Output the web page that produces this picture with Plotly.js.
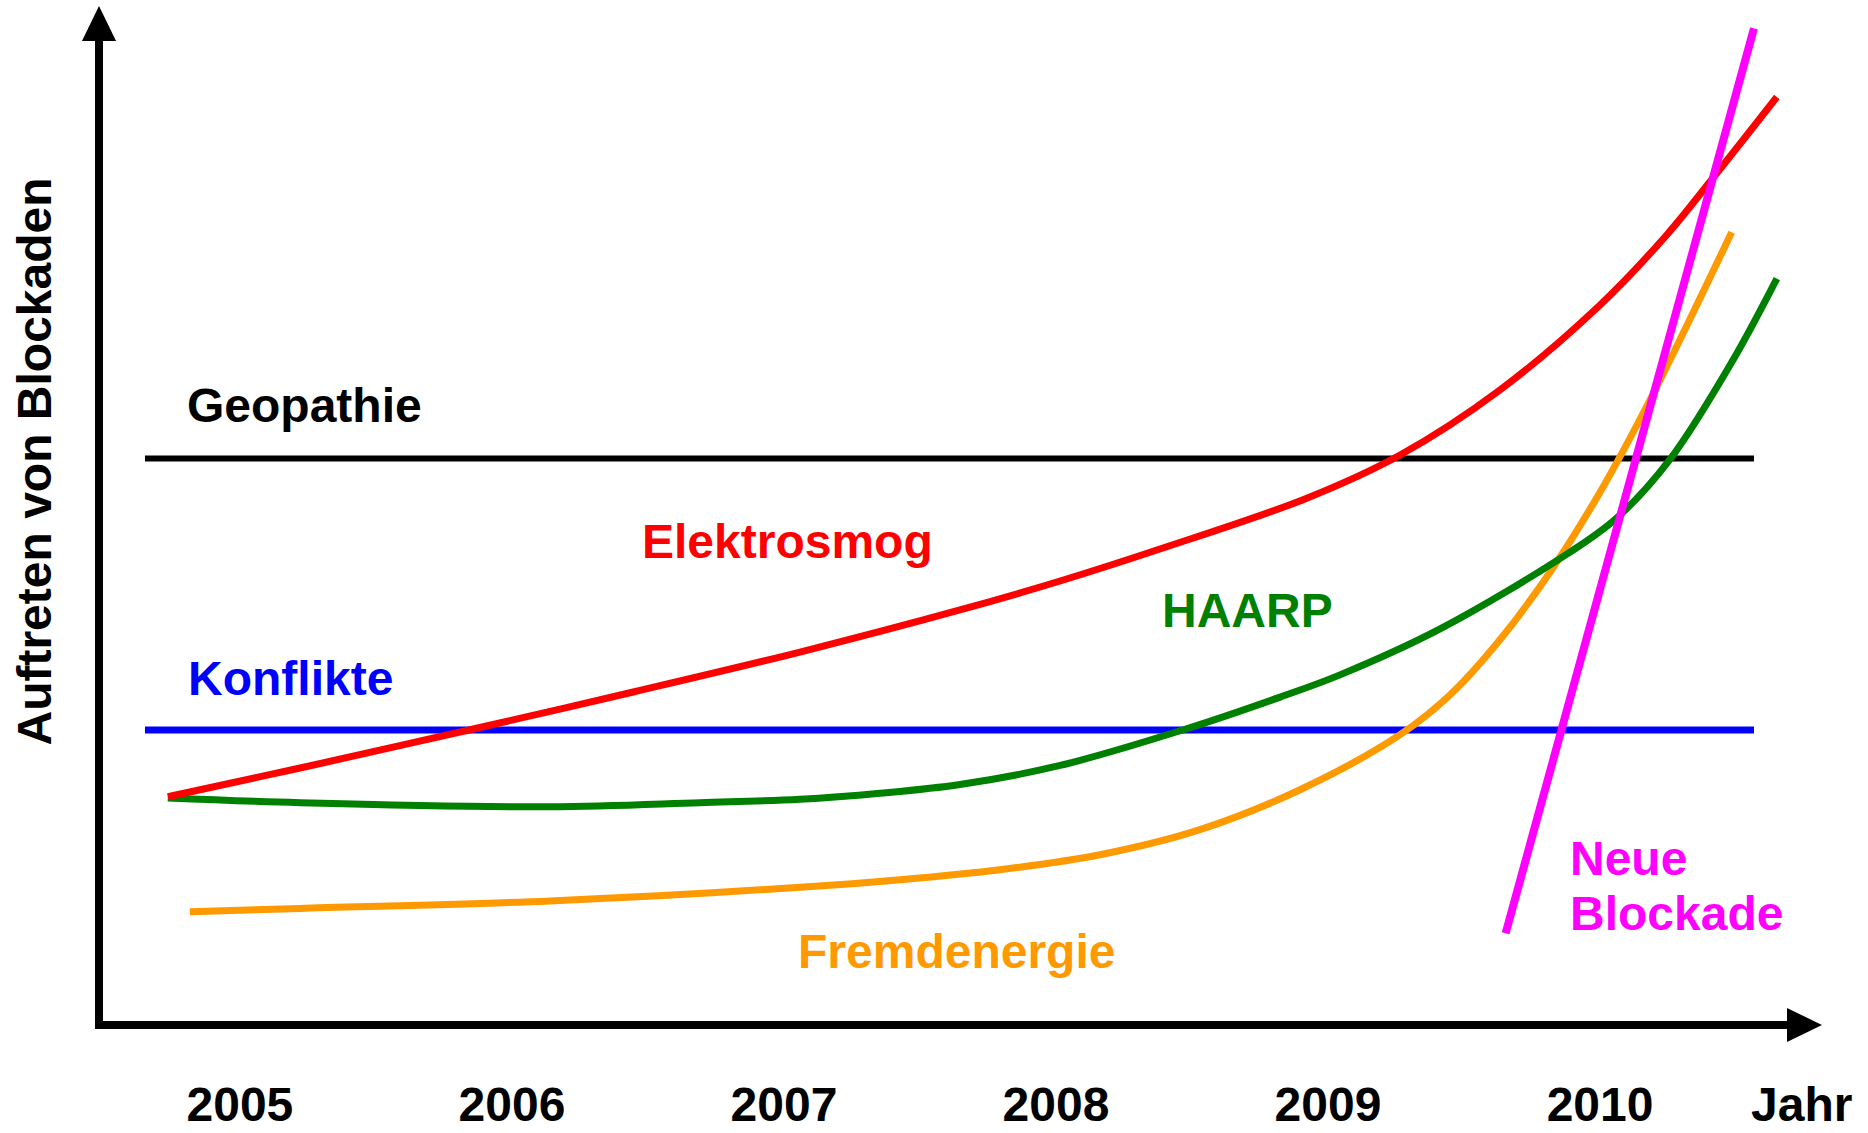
<!DOCTYPE html>
<html>
<head>
<meta charset="utf-8">
<script src="https://cdn.plot.ly/plotly-3.0.1.min.js"></script>
<style>
html, body { margin: 0; padding: 0; background: #ffffff; }
#chart { width: 1868px; height: 1133px; }
</style>
</head>
<body>
<div id="chart"></div>
<script>
// ---- data (x in years, y = relative occurrence of blockades) ----
const tickYears = [2005, 2006, 2007, 2008, 2009, 2010];
const tickLabels = ["2005", "2006", "2007", "2008", "2009", "2010"];

const geopathieX = [2004.651, 2010.566];
const geopathieY = [55.6, 55.6];

const konflikteX = [2004.651, 2010.566];
const konflikteY = [28.95, 28.95];

const elektrosmogX = [2004.735, 2005.221, 2005.858, 2006.446, 2007.059, 2007.647, 2008.015, 2008.382, 2008.922, 2009.265, 2009.632, 2010.000, 2010.245, 2010.415, 2010.650];
const elektrosmogY = [22.40, 25.22, 29.05, 32.68, 36.60, 40.73, 43.57, 46.71, 51.70, 55.94, 62.32, 70.66, 77.53, 83.12, 91.07];

const haarpX = [2004.735, 2005.221, 2006.140, 2006.691, 2007.059, 2007.353, 2007.647, 2008.015, 2008.480, 2008.824, 2009.044, 2009.412, 2009.878, 2010.061, 2010.257, 2010.489, 2010.650];
const haarpY = [22.28, 21.82, 21.42, 21.82, 22.15, 22.74, 23.60, 25.47, 29.07, 32.18, 34.36, 38.87, 46.21, 49.75, 55.51, 65.27, 73.25];

const fremdenergieX = [2004.816, 2005.221, 2006.140, 2007.059, 2007.426, 2007.794, 2008.162, 2008.529, 2008.897, 2009.265, 2009.449, 2009.632, 2009.816, 2010.000, 2010.184, 2010.484];
const fremdenergieY = [11.12, 11.44, 12.18, 13.52, 14.26, 15.24, 16.71, 19.17, 23.09, 28.49, 32.41, 37.81, 44.44, 52.29, 61.36, 77.80];

const neueBlockadeX = [2009.653, 2010.566];
const neueBlockadeY = [9.0, 97.8];

// ---- styling ----
const FONT = "Liberation Sans, Arial, Helvetica, sans-serif";
const FS = 48;

function lineTrace(x, y, color, width, shape) {
  return {
    x: x, y: y, type: "scatter", mode: "lines",
    line: { color: color, width: width, shape: shape, smoothing: 1.0 },
    hoverinfo: "skip", showlegend: false
  };
}

const data = [
  lineTrace(geopathieX, geopathieY, "#000000", 6, "linear"),
  lineTrace(konflikteX, konflikteY, "#0000FF", 7, "linear"),
  lineTrace(fremdenergieX, fremdenergieY, "#FF9900", 7, "spline"),
  lineTrace(haarpX, haarpY, "#008000", 7, "spline"),
  lineTrace(elektrosmogX, elektrosmogY, "#FF0000", 7, "spline"),
  lineTrace(neueBlockadeX, neueBlockadeY, "#FF00FF", 8, "linear")
];

function label(text, x, y, color, xref, yref) {
  return {
    text: text, x: x, y: y, xref: xref || "x", yref: yref || "y",
    xanchor: "left", yanchor: "middle", showarrow: false,
    font: { family: FONT, size: FS, color: color, weight: "bold" }
  };
}

const annotations = [
  label("Geopathie", 2004.797, 60.8, "#000000"),
  label("Elektrosmog", 2006.472, 47.4, "#FF0000"),
  label("HAARP", 2008.382, 40.7, "#008000"),
  label("Konflikte", 2004.802, 34.0, "#0000FF"),
  label("Fremdenergie", 2007.045, 7.25, "#FF9900"),
  label("Neue", 2009.884, 16.3, "#FF00FF"),
  label("Blockade", 2009.884, 10.95, "#FF00FF"),
  label("Jahr", 0.9578, -0.0785, "#000000", "paper", "paper"),
  {
    text: "Auftreten von Blockaden", x: -0.038, y: 0.5525, xref: "paper", yref: "paper",
    xanchor: "center", yanchor: "middle", showarrow: false, textangle: -90,
    font: { family: FONT, size: FS, color: "#000000", weight: "bold" }
  }
];

// axes with arrow heads (paper coordinates)
const shapes = [
  { type: "line", xref: "paper", yref: "paper", x0: 0, y0: -0.004, x1: 0, y1: 0.967,
    line: { color: "#000000", width: 8 } },
  { type: "line", xref: "paper", yref: "paper", x0: -0.0023, y0: 0, x1: 0.98, y1: 0,
    line: { color: "#000000", width: 8 } },
  { type: "path", xref: "paper", yref: "paper",
    path: "M -0.0099,0.9657 L 0.0099,0.9657 L 0,1 Z",
    fillcolor: "#000000", line: { color: "#000000", width: 0 } },
  { type: "path", xref: "paper", yref: "paper",
    path: "M 0.9797,0.0167 L 0.9797,-0.0167 L 1,0 Z",
    fillcolor: "#000000", line: { color: "#000000", width: 0 } }
];

const layout = {
  width: 1868, height: 1133,
  margin: { l: 99, r: 46, t: 6, b: 108, pad: 0 },
  paper_bgcolor: "#ffffff", plot_bgcolor: "#ffffff",
  showlegend: false,
  xaxis: {
    range: [2004.482, 2010.816],
    tickvals: tickYears, ticktext: tickLabels,
    ticks: "", showgrid: false, zeroline: false, showline: false,
    ticklabelstandoff: 47,
    tickfont: { family: FONT, size: FS, color: "#000000", weight: "bold" },
    fixedrange: true
  },
  yaxis: {
    range: [0, 100],
    showticklabels: false, ticks: "", showgrid: false, zeroline: false, showline: false,
    fixedrange: true
  },
  annotations: annotations,
  shapes: shapes
};

Plotly.newPlot("chart", data, layout, { staticPlot: true, displayModeBar: false });
</script>
</body>
</html>
